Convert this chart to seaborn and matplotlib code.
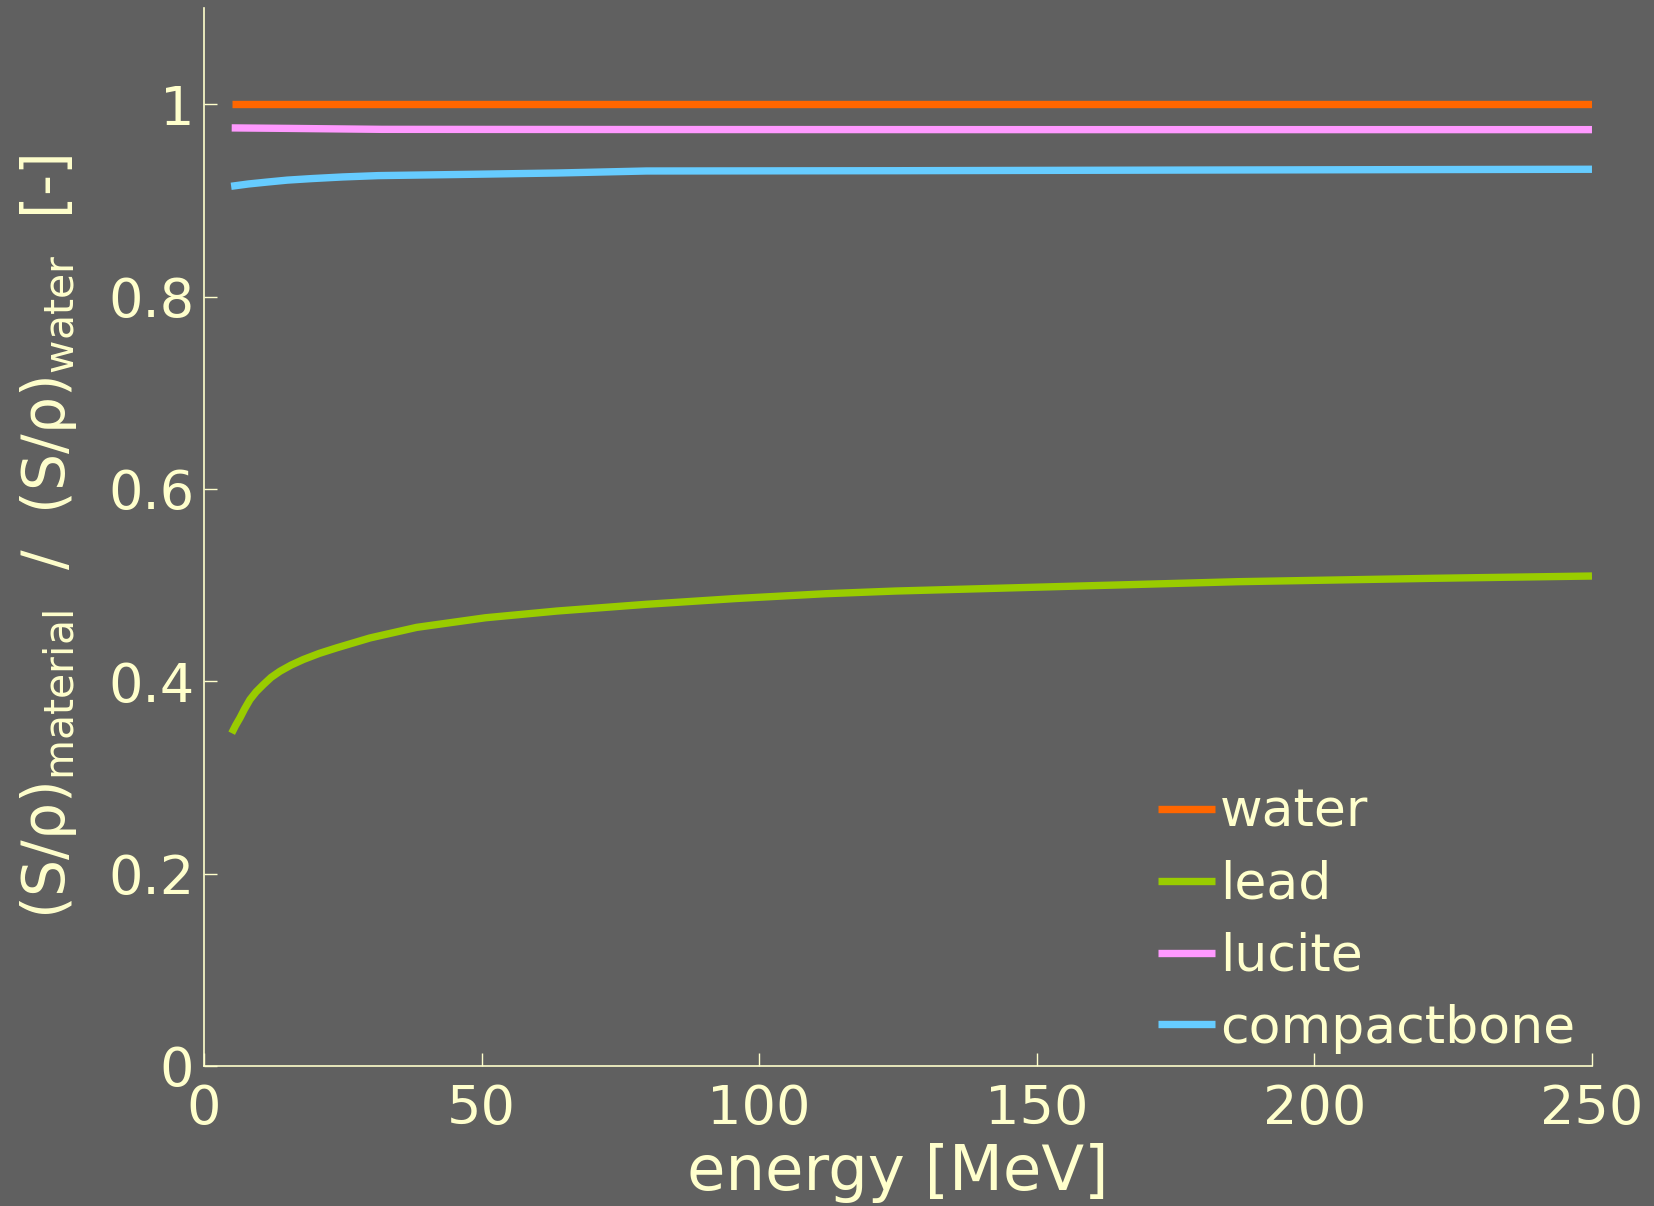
import matplotlib
matplotlib.use("Agg")
import matplotlib.pyplot as plt
import seaborn as sns
import pandas as pd

# ---- data ----
materials = ["water", "lead", "lucite", "compactbone"]
colors = ["#ff6600", "#99cc00", "#ff99ff", "#66ccff"]

water_E = [5, 250]
water_v = [1.0, 1.0]

lead_E = [5.0, 5.7, 6.5, 7.3, 8.3, 9.4, 10.7, 12.1, 13.7, 15.7, 17.9, 20.8,
          23.9, 29.9, 38.3, 50.7, 63.6, 79.7, 95.8, 111.9, 124.6, 151.3,
          186.2, 221.1, 250]
lead_v = [0.346, 0.354, 0.362, 0.371, 0.381, 0.389, 0.3965, 0.404, 0.4104,
          0.4168, 0.4226, 0.429, 0.4347, 0.445, 0.456, 0.466, 0.473, 0.480,
          0.486, 0.491, 0.4938, 0.498, 0.5035, 0.507, 0.5094]

lucite_E = [5, 15, 32, 80, 150, 250]
lucite_v = [0.9753, 0.9748, 0.9738, 0.9736, 0.9735, 0.9735]

bone_E = [4.9, 8.0, 11.4, 15.0, 19.4, 25.0, 31.4, 47.5, 63.6, 79.7, 124.6,
          180, 250]
bone_v = [0.9146, 0.917, 0.919, 0.921, 0.9226, 0.9243, 0.9257, 0.927, 0.9284,
          0.9305, 0.9308, 0.9315, 0.9323]

x_ticks = [0, 50, 100, 150, 200, 250]
y_ticks = [0, 0.2, 0.4, 0.6, 0.8, 1]
y_tick_labels = ["0", "0.2", "0.4", "0.6", "0.8", "1"]

# ---- long-form table ----
frames = []
for name, E, v in [("water", water_E, water_v), ("lead", lead_E, lead_v),
                   ("lucite", lucite_E, lucite_v), ("compactbone", bone_E, bone_v)]:
    frames.append(pd.DataFrame({"energy": E, "ratio": v, "material": name}))
df = pd.concat(frames, ignore_index=True)

BG = "#606060"
FG = "#ffffcc"

sns.set_theme(style="ticks")
plt.rcParams.update({
    "font.family": ["DejaVu Sans"],
    "mathtext.fontset": "custom",
    "mathtext.rm": "DejaVu Sans",
    "mathtext.it": "DejaVu Sans",
    "mathtext.bf": "DejaVu Sans:bold",
    "figure.facecolor": BG,
    "axes.facecolor": BG,
    "savefig.facecolor": BG,
})

fig = plt.figure(figsize=(16.54, 12.06), dpi=100)
ax = fig.add_axes([0.1233, 0.1161, 0.9625 - 0.1233, 0.9934 - 0.1161])

sns.lineplot(data=df, x="energy", y="ratio", hue="material",
             hue_order=materials, palette=colors, estimator=None,
             sort=True, linewidth=5.3, ax=ax, legend=True)
for ln in ax.lines:
    ln.set_solid_capstyle("butt")
    ln.set_solid_joinstyle("round")

ax.set_xlim(0, 250)
ax.set_ylim(0, 1.1)
ax.set_xticks(x_ticks)
ax.set_xticklabels([str(t) for t in x_ticks])
ax.set_yticks(y_ticks)
ax.set_yticklabels(y_tick_labels)

for side in ["top", "right"]:
    ax.spines[side].set_visible(False)
for side in ["left", "bottom"]:
    ax.spines[side].set_color(FG)
    ax.spines[side].set_linewidth(1.2)

ax.tick_params(axis="both", direction="in", length=9.5, width=1.0,
               colors=FG, labelsize=39, labelcolor=FG)
ax.tick_params(axis="x", pad=12)
ax.tick_params(axis="y", pad=7)

ax.set_xlabel("energy [MeV]", fontsize=45, color=FG, labelpad=6)
ax.set_ylabel(r"$(S/\rho)_{material}$  /  $(S/\rho)_{water}$  [-]",
              fontsize=42, color=FG, labelpad=21)

handles, labels = ax.get_legend_handles_labels()
leg = ax.legend(handles, labels, loc="lower right", frameon=False,
                fontsize=37.5, handlelength=1.1, handletextpad=0.1,
                labelspacing=0.42, borderaxespad=0.0,
                bbox_to_anchor=(1.003, -0.008))
for t in leg.get_texts():
    t.set_color(FG)
for h in leg.get_lines():
    h.set_linewidth(5.3)
    h.set_solid_capstyle("butt")

fig.savefig("out.png", dpi=100)
